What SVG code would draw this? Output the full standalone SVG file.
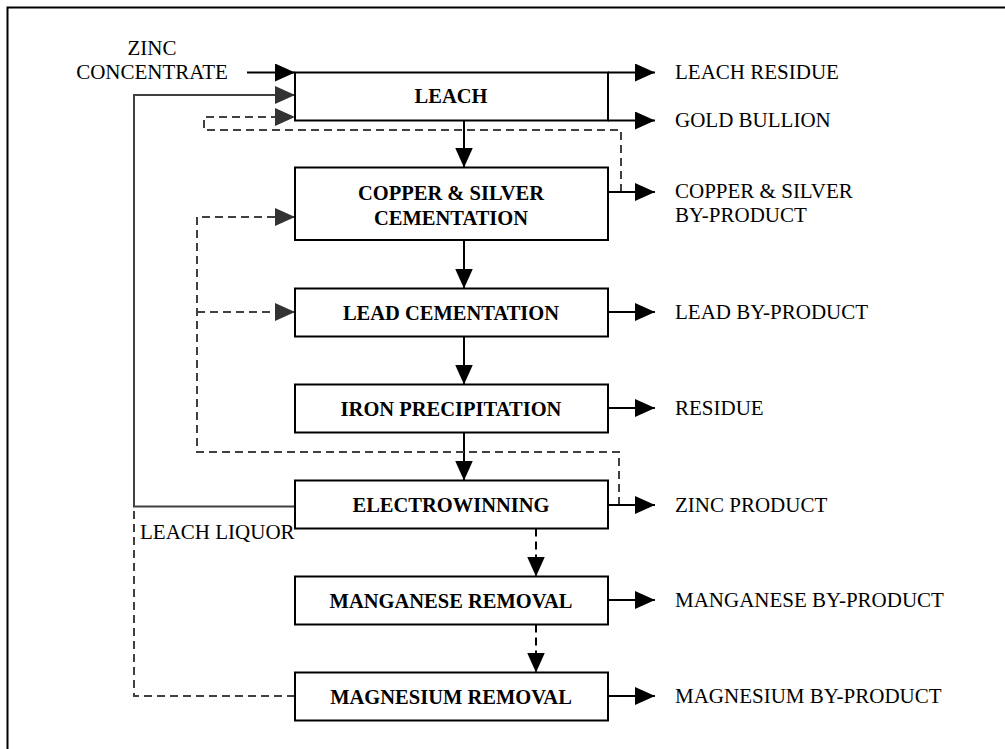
<svg xmlns="http://www.w3.org/2000/svg" width="1005" height="749" viewBox="0 0 1005 749">
<style>
.box{fill:#fff;stroke:#000;stroke-width:2}
.lbl{font-family:"Liberation Serif","Times New Roman",serif;font-size:20.5px;font-weight:bold;text-anchor:middle;fill:#000}
.txt{font-family:"Liberation Serif","Times New Roman",serif;font-size:21px;fill:#000}
.main{fill:none;stroke:#000;stroke-width:2}
.fb{fill:none;stroke:#404040;stroke-width:2}
.dash{fill:none;stroke:#404040;stroke-width:2;stroke-dasharray:8,5}
.ddown{fill:none;stroke:#000;stroke-width:2;stroke-dasharray:8,5}
</style>
<defs>
<marker id="ah" markerUnits="userSpaceOnUse" markerWidth="20" markerHeight="18" refX="20" refY="9" orient="auto" viewBox="0 0 20 18">
<path d="M0,0 L20,9 L0,18 z" fill="#000"/>
</marker>
<marker id="ahg" markerUnits="userSpaceOnUse" markerWidth="20" markerHeight="18" refX="20" refY="9" orient="auto" viewBox="0 0 20 18">
<path d="M0,0 L20,9 L0,18 z" fill="#333"/>
</marker>
</defs>
<rect width="1005" height="749" fill="#fff"/>
<path d="M7.5,749 V7.5 H1005" fill="none" stroke="#000" stroke-width="2"/>

<g id="connectors">
<!-- main flow -->
<path class="main" d="M464,120.5 V167.5" marker-end="url(#ah)"/>
<path class="main" d="M464,240 V288.5" marker-end="url(#ah)"/>
<path class="main" d="M464,336.5 V384.5" marker-end="url(#ah)"/>
<path class="main" d="M464,432.5 V480.5" marker-end="url(#ah)"/>
<path class="ddown" d="M536,528.5 V576.5" marker-end="url(#ah)"/>
<path class="ddown" d="M536,624.5 V672.5" marker-end="url(#ah)"/>
<!-- inputs -->
<path class="main" d="M247,72.5 H295" marker-end="url(#ah)"/>
<path class="fb" d="M295,506.5 H134 V95 H295" marker-end="url(#ahg)"/>
<path class="dash" d="M295,696 H134 V508"/>
<path class="dash" d="M621,192 V130 H204 V117 H295" marker-end="url(#ahg)"/>
<path class="dash" d="M619,505 V452 H197 V217 H295" marker-end="url(#ahg)"/>
<path class="dash" d="M197,312 H295" marker-end="url(#ahg)"/>
<!-- outputs -->
<path class="main" d="M608,72.5 H655" marker-end="url(#ah)"/>
<path class="main" d="M608,120.5 H655" marker-end="url(#ah)"/>
<path class="main" d="M608,192 H655" marker-end="url(#ah)"/>
<path class="main" d="M608,312 H655" marker-end="url(#ah)"/>
<path class="main" d="M608,408 H655" marker-end="url(#ah)"/>
<path class="main" d="M608,505 H655" marker-end="url(#ah)"/>
<path class="main" d="M608,600 H655" marker-end="url(#ah)"/>
<path class="main" d="M608,696 H655" marker-end="url(#ah)"/>
</g>

<g id="leach"><rect class="box" x="295" y="72.5" width="313" height="48"/><text class="lbl" x="451" y="103">LEACH</text></g>
<g id="copper-silver"><rect class="box" x="295" y="167.5" width="313" height="72.5"/><text class="lbl" x="451" y="200">COPPER &amp; SILVER</text><text class="lbl" x="451" y="225">CEMENTATION</text></g>
<g id="lead"><rect class="box" x="295" y="288.5" width="313" height="48"/><text class="lbl" x="451" y="319.5">LEAD CEMENTATION</text></g>
<g id="iron"><rect class="box" x="295" y="384.5" width="313" height="48"/><text class="lbl" x="451" y="415.5">IRON PRECIPITATION</text></g>
<g id="electrowinning"><rect class="box" x="295" y="480.5" width="313" height="48"/><text class="lbl" x="451" y="512">ELECTROWINNING</text></g>
<g id="manganese"><rect class="box" x="295" y="576.5" width="313" height="48"/><text class="lbl" x="451" y="607.5">MANGANESE REMOVAL</text></g>
<g id="magnesium"><rect class="box" x="295" y="672.5" width="313" height="48"/><text class="lbl" x="451" y="703.5">MAGNESIUM REMOVAL</text></g>

<g id="labels">
<text class="txt" x="152" y="55" text-anchor="middle">ZINC</text>
<text class="txt" x="152" y="79" text-anchor="middle">CONCENTRATE</text>
<text class="txt" x="140" y="539">LEACH LIQUOR</text>
<text class="txt" x="675" y="79">LEACH RESIDUE</text>
<text class="txt" x="675" y="127">GOLD BULLION</text>
<text class="txt" x="675" y="198">COPPER &amp; SILVER</text>
<text class="txt" x="675" y="222">BY-PRODUCT</text>
<text class="txt" x="675" y="319">LEAD BY-PRODUCT</text>
<text class="txt" x="675" y="415">RESIDUE</text>
<text class="txt" x="675" y="512">ZINC PRODUCT</text>
<text class="txt" x="675" y="607">MANGANESE BY-PRODUCT</text>
<text class="txt" x="675" y="703">MAGNESIUM BY-PRODUCT</text>
</g>
</svg>
